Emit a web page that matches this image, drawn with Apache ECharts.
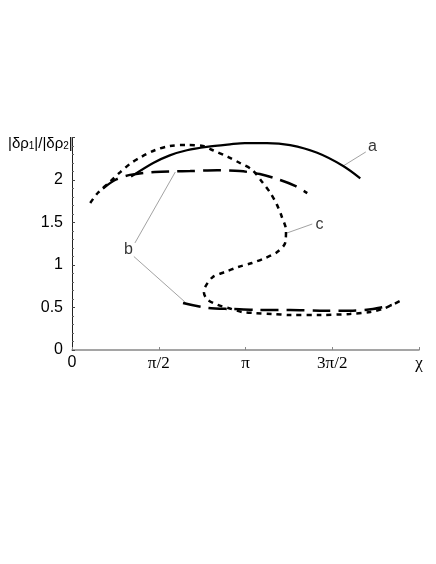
<!DOCTYPE html>
<html>
<head>
<meta charset="utf-8">
<script src="https://cdn.jsdelivr.net/npm/echarts@6/dist/echarts.min.js"></script>
<style>
  html, body { margin: 0; padding: 0; background: #fff; }
  #chart { width: 436px; height: 564px; }
</style>
</head>
<body>
<div id="chart"></div>
<script>
// x 以弧度为单位 (0 .. 2π)
var xTickLabels = ['0', 'π/2', 'π', '3π/2', 'χ']
var yTickLabels = ['0', '0.5', '1', '1.5', '2']

// 曲线 a (实线)
var curveA = [
  [1.07, 2.04], [1.47, 2.20], [1.77, 2.29], [2.08, 2.35], [2.44, 2.39],
  [2.86, 2.42], [3.13, 2.435], [3.53, 2.435], [3.95, 2.41], [4.44, 2.32],
  [4.91, 2.165], [5.22, 2.02]
]

// 曲线 b 上支 / 下支 (长虚线)
var curveBUpper = [
  [0.56, 1.90], [0.78, 2.00], [1.05, 2.06], [1.50, 2.095], [2.14, 2.105],
  [2.63, 2.115], [3.04, 2.105], [3.40, 2.07], [3.77, 2.00], [4.04, 1.93],
  [4.26, 1.845]
]
var curveBLower = [
  [2.01, 0.553], [2.46, 0.494], [2.90, 0.482], [3.40, 0.471], [3.95, 0.471],
  [4.49, 0.462], [5.03, 0.462], [5.45, 0.482], [5.79, 0.529]
]

// 曲线 c (短虚线)
var curveC = [
  [0.33, 1.73], [0.47, 1.85], [0.69, 1.98], [0.87, 2.09], [1.05, 2.19],
  [1.25, 2.27], [1.50, 2.35], [1.77, 2.40], [2.08, 2.412], [2.37, 2.40],
  [2.55, 2.35], [2.83, 2.27], [3.04, 2.20], [3.26, 2.12], [3.44, 1.98],
  [3.59, 1.85], [3.71, 1.71], [3.80, 1.565], [3.875, 1.41], [3.86, 1.26],
  [3.71, 1.15], [3.49, 1.08], [3.26, 1.024], [3.01, 0.976], [2.77, 0.918],
  [2.55, 0.86], [2.41, 0.74], [2.39, 0.67], [2.46, 0.59], [2.64, 0.53],
  [2.83, 0.494], [3.08, 0.447], [3.31, 0.435], [3.62, 0.424], [3.95, 0.412],
  [4.49, 0.412], [5.03, 0.424], [5.40, 0.447], [5.67, 0.494], [6.01, 0.60]
]

// 标注文字与引线
var noteLabels = [
  { name: 'a', value: [5.44, 2.39] },
  { name: 'b', value: [1.02, 1.18] },
  { name: 'c', value: [4.48, 1.47] }
]
var leaderA = [[4.91, 2.165], [5.32, 2.33]]
var leaderC = [[3.89, 1.376], [4.35, 1.482]]
var leaderB1 = [[1.14, 1.26], [1.87, 2.094]]
var leaderB2 = [[1.12, 1.10], [2.08, 0.545]]

var chart = echarts.init(document.getElementById('chart'))

var leaderStyle = { color: '#8a8a8a', width: 0.8 }

function curve(data, width, type) {
  return {
    type: 'line',
    data: data,
    smooth: 0.3,
    symbol: 'none',
    silent: true,
    lineStyle: { color: '#000', width: width, type: type }
  }
}

function leader(data) {
  return {
    type: 'line',
    data: data,
    symbol: 'none',
    silent: true,
    lineStyle: leaderStyle
  }
}

chart.setOption({
  animation: false,
  grid: { left: 72, right: 17, top: 137.5, bottom: 214 },
  xAxis: {
    type: 'value',
    min: 0,
    max: 2 * Math.PI,
    interval: Math.PI / 2,
    splitLine: { show: false },
    axisLine: { lineStyle: { color: '#888', width: 1.5 } },
    axisTick: { inside: true, length: 3, lineStyle: { color: '#888' } },
    axisLabel: {
      margin: 5,
      color: '#000',
      fontFamily: 'Liberation Serif',
      fontSize: 17,
      formatter: function(v) {
        var i = Math.round(v / (Math.PI / 2))
        return i === 0 ? '{s|0}' : xTickLabels[i]
      },
      rich: {
        s: { fontFamily: 'Liberation Sans', fontSize: 16, color: '#000' }
      }
    }
  },
  yAxis: {
    type: 'value',
    min: 0,
    max: 2.5,
    interval: 0.5,
    splitLine: { show: false },
    axisLine: { lineStyle: { color: '#222', width: 1 } },
    axisTick: { inside: true, length: 3, lineStyle: { color: '#444' } },
    minorTick: { show: true, splitNumber: 5, length: 2, lineStyle: { color: '#666' } },
    axisLabel: {
      margin: 9,
      color: '#000',
      fontFamily: 'Liberation Sans',
      fontSize: 16,
      formatter: function(v) {
        var i = Math.round(v / 0.5)
        return yTickLabels[i] || ''
      }
    }
  },
  graphic: [{
    type: 'text',
    left: 8,
    top: 136,
    style: {
      text: '|δρ{sub|1}|/|δρ{sub|2}|',
      fill: '#000',
      font: '15px "Liberation Sans"',
      rich: {
        sub: { fontSize: 10, fontFamily: 'Liberation Sans', fill: '#000', verticalAlign: 'bottom', padding: [6, 0, 0, 0] }
      }
    }
  }],
  series: [
    leader(leaderA),
    leader(leaderC),
    leader(leaderB1),
    leader(leaderB2),
    curve(curveA, 2.2, 'solid'),
    curve(curveBUpper, 2.5, [18, 8]),
    curve(curveBLower, 2.5, [18, 8]),
    curve(curveC, 2.5, [5, 5]),
    {
      type: 'scatter',
      data: noteLabels,
      symbolSize: 0,
      silent: true,
      label: {
        show: true,
        position: 'inside',
        formatter: '{b}',
        color: '#000',
        fontFamily: 'Liberation Sans',
        fontSize: 16
      }
    }
  ]
})
</script>
</body>
</html>
